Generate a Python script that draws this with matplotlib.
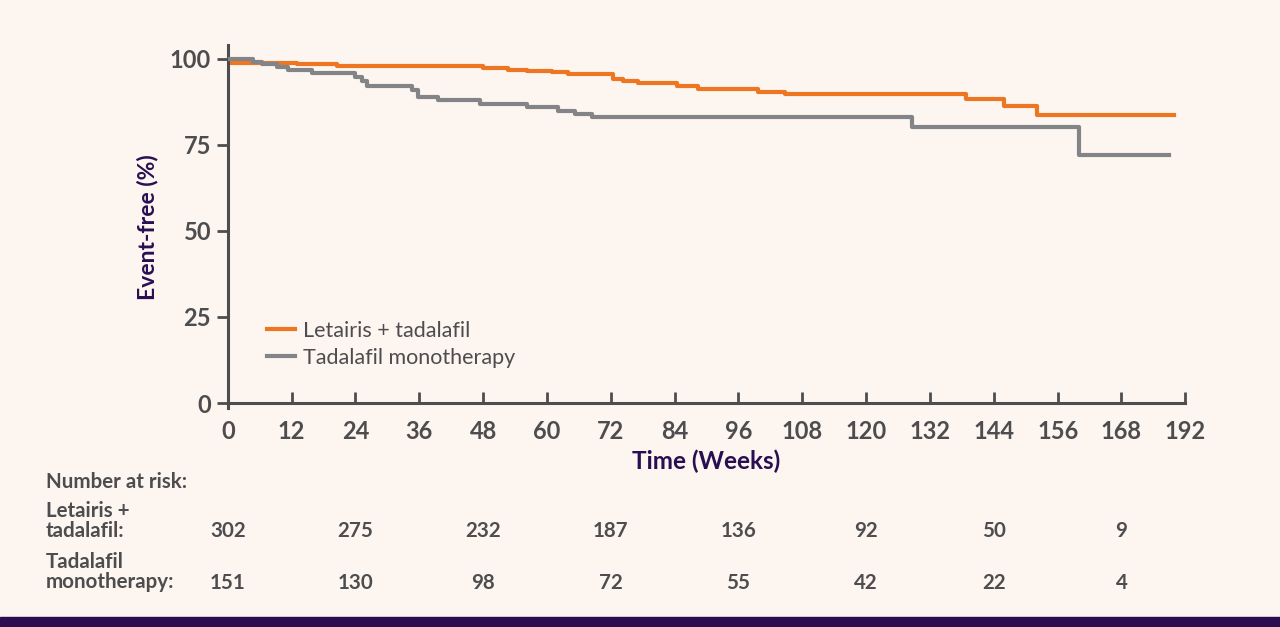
import matplotlib.pyplot as plt
import matplotlib.transforms as mtransforms

# Kaplan-Meier steps (time in weeks, event-free %)
combo_weeks = [0, 0.3, 13, 20.5, 48, 52.7, 56.3, 61, 64, 72.5, 74.2, 77.2,
               84.5, 88.3, 99.6, 104.7, 138.8, 145.9, 152.2, 177.9]
combo_pct = [100, 98.8, 98.4, 97.8, 97.3, 96.9, 96.6, 96.3, 95.7, 94.3, 93.7, 92.9,
             92.1, 91.3, 90.5, 89.9, 88.3, 86.3, 83.8, 83.8]

mono_weeks = [0, 4.8, 6.4, 9.2, 11.4, 15.8, 23.9, 25.2, 26.2, 34.6, 35.8, 39.5,
              47.5, 56.3, 62.1, 65.3, 68.5, 128.6, 160, 177]
mono_pct = [100, 99.1, 98.4, 97.7, 96.8, 95.8, 94.8, 93.5, 92.1, 91.1, 89.0, 88.1,
            87.0, 86.1, 84.9, 84.0, 83.0, 80.3, 72.2, 72.2]

tick_pos = [0, 12, 24, 36, 48, 60, 72, 84, 96, 108, 120, 132, 144, 156, 168, 180]
tick_labels = ['0', '12', '24', '36', '48', '60', '72', '84', '96', '108', '120',
               '132', '144', '156', '168', '192']

risk_weeks = [0, 24, 48, 72, 96, 120, 144, 168]
risk_combo = [302, 275, 232, 187, 136, 92, 50, 9]
risk_mono = [151, 130, 98, 72, 55, 42, 22, 4]

BG = '#fdf5ef'
ORANGE = '#ee7623'
GREY = '#838487'
DARK = '#4d4d4f'
PURPLE = '#2a0e52'

plt.rcParams['font.family'] = ['Lato', 'DejaVu Sans']

fig = plt.figure(figsize=(12.8, 6.27), dpi=100, facecolor=BG)
ax = fig.add_axes([0.178, 0.349, 0.748, 0.579])
ax.set_facecolor(BG)

ax.step(combo_weeks, combo_pct, where='post', color=ORANGE, lw=3, label='Letairis + tadalafil', zorder=2)
ax.step(mono_weeks, mono_pct, where='post', color=GREY, lw=3, label='Tadalafil monotherapy', zorder=3)

ax.set_xlim(0, 180)
ax.set_ylim(-1.5, 104)
for s in ['top', 'right']:
    ax.spines[s].set_visible(False)
ax.spines['bottom'].set_position(('data', 0))
for s in ['left', 'bottom']:
    ax.spines[s].set_color(DARK)
    ax.spines[s].set_linewidth(2.2)

ax.set_xticks(tick_pos)
ax.set_xticklabels(tick_labels)
ax.set_yticks([0, 25, 50, 75, 100])
ax.tick_params(axis='x', direction='in', length=8, width=2, color=DARK, pad=12,
               labelsize=17, labelcolor=DARK)
ax.tick_params(axis='y', direction='out', length=8, width=2, color=DARK, pad=4,
               labelsize=17, labelcolor=DARK)
for lab in ax.get_xticklabels() + ax.get_yticklabels():
    lab.set_fontweight('bold')

ax.set_ylabel('Event-free (%)', fontsize=16.5, fontweight='bold', color=PURPLE, labelpad=8)
fig.text(0.552, 0.265, 'Time (Weeks)', fontsize=17.5, fontweight='bold', color=PURPLE,
         ha='center', va='center')

leg = ax.legend(loc='upper left', bbox_to_anchor=(0.202, 0.502), bbox_transform=fig.transFigure,
                frameon=False, fontsize=15.5, handlelength=1.3, handletextpad=0.35,
                labelspacing=0.33, borderaxespad=0)
for t in leg.get_texts():
    t.set_color(DARK)

# number at risk table
tr = mtransforms.blended_transform_factory(ax.transData, fig.transFigure)
fig.text(0.036, 1 - 482 / 627, 'Number at risk:', fontsize=14.8, fontweight='bold', color=DARK, va='center')
fig.text(0.036, 1 - 521 / 627, 'Letairis +\ntadalafil:', fontsize=14.8, fontweight='bold', color=DARK,
         va='center', linespacing=1.0)
fig.text(0.036, 1 - 572 / 627, 'Tadalafil\nmonotherapy:', fontsize=14.8, fontweight='bold', color=DARK,
         va='center', linespacing=1.0)
for w, a, b in zip(risk_weeks, risk_combo, risk_mono):
    ax.text(w, 1 - 531 / 627, str(a), transform=tr, fontsize=14.8, fontweight='bold', color=DARK,
            ha='center', va='center')
    ax.text(w, 1 - 583 / 627, str(b), transform=tr, fontsize=14.8, fontweight='bold', color=DARK,
            ha='center', va='center')

# purple footer band
fig.patches.append(plt.Rectangle((0, 0), 1, 10 / 627, transform=fig.transFigure,
                                 color='#2c0e50', zorder=5))

fig.savefig('out.png', dpi=100, facecolor=BG)
